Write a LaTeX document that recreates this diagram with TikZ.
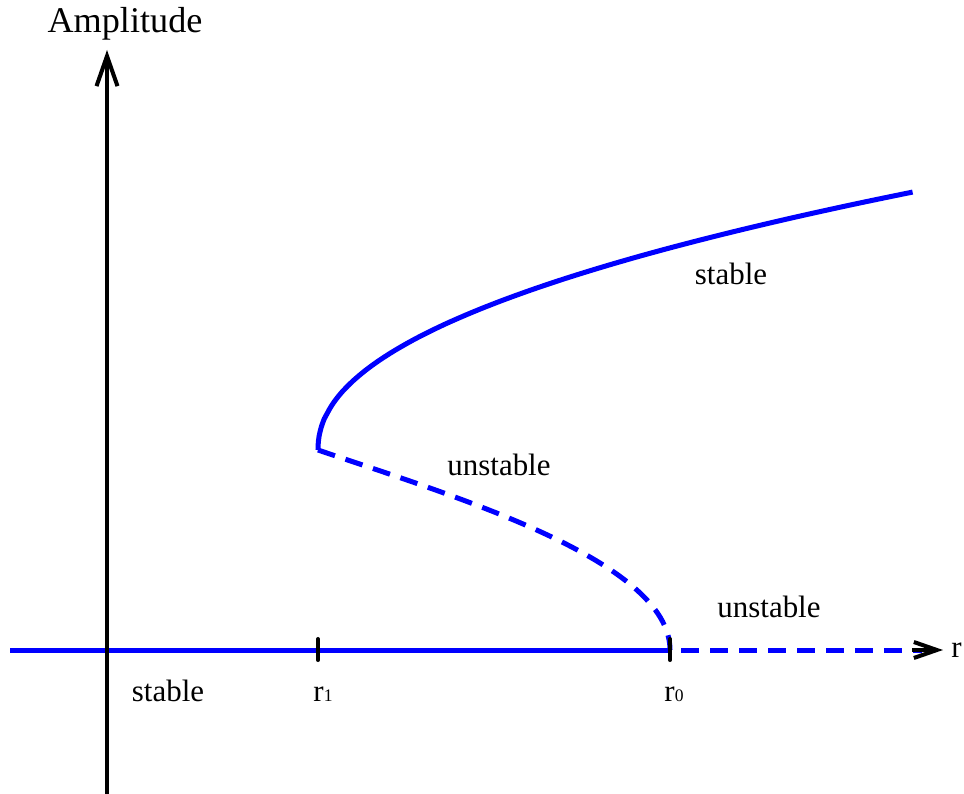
\documentclass[tikz,border=0pt]{standalone}
\usepackage{fontspec}
\setmainfont{Liberation Serif}
\usetikzlibrary{arrows.meta}
\definecolor{branch}{HTML}{0000FF}
\newcommand{\lblsize}{\fontsize{17.6}{21}\selectfont}
\newcommand{\ttlsize}{\fontsize{20.6}{24}\selectfont}
\newcommand{\subsize}{\fontsize{10}{12}\selectfont}

\begin{document}
\begin{tikzpicture}[x=0.02cm, y=-0.02cm,
    axis/.style={black, line width=2.3pt},
    solidbranch/.style={branch, line width=2.85pt},
    dashbranch/.style={branch, line width=2.85pt, dash pattern=on 10.2pt off 6.3pt},
    tickmark/.style={black, line width=2.3pt, line cap=round},
    lbl/.style={font=\lblsize, inner sep=0pt}]
  \useasboundingbox (0,0) rectangle (964,794);
  % points on the axes
  \coordinate (left) at (10,650);
  \coordinate (r1) at (318,650);
  \coordinate (r0) at (670,650);
  \coordinate (dend) at (922,650);
  \coordinate (hbase) at (912,650);
  \coordinate (htip) at (943,650);
  \coordinate (ybot) at (107,794);
  \coordinate (ytip) at (107,50);
  % branch points
  \coordinate (fold) at (318,450);

  % trivial branch
  \draw[solidbranch] (left) -- (r0);
  \draw[dashbranch, dash phase=10.2pt] (r0) -- (dend);
  \draw[axis, -{Straight Barb[length=0.46cm, width=0.32cm]}] (hbase) -- (htip);

  % stable upper branch
  \draw[solidbranch] (fold) -- plot[smooth, domain=0.004:1, samples=60, variable=\t]
    ({318+595*\t^2.15}, {450-258*\t});
  % unstable middle branch
  \draw[dashbranch] (fold) .. controls (450,495) and (670,560) .. (r0);

  % ticks
  \draw[tickmark] (r1) ++(0,-11) -- ++(0,21);
  \draw[tickmark] (r0) ++(0,-11) -- ++(0,21);

  % amplitude axis
  \draw[axis, -{Straight Barb[length=0.6cm, width=0.42cm]}] (ybot) -- (ytip);

  % labels
  \node[font=\ttlsize, inner sep=0pt] (amp) at (125,24) {Amplitude};
  \node[lbl, anchor=west] (rlab) at (951,650) {r};
  \node[lbl] (r1lab) at (323,694) {r{\subsize 1}};
  \node[lbl] (r0lab) at (674,694) {r{\subsize 0}};
  \node[lbl] (stab0) at (168,691) {stable};
  \node[lbl] (stab1) at (731,274) {stable};
  \node[lbl] (unst0) at (499,465) {unstable};
  \node[lbl] (unst1) at (769,607) {unstable};
\end{tikzpicture}
\end{document}
